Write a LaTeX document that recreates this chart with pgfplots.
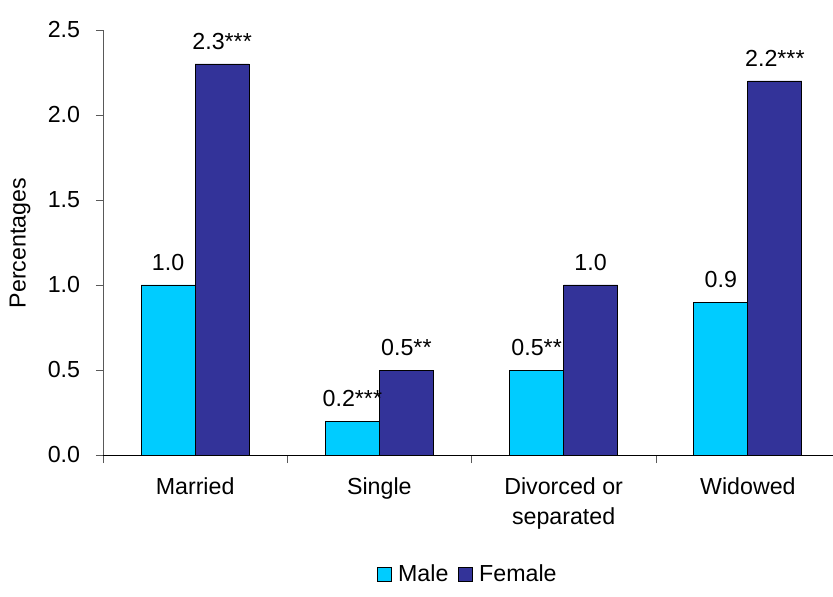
\documentclass[border=0pt]{standalone}
\usepackage{fontspec}
\setmainfont{Liberation Sans}
\usepackage{pgfplots}
\pgfplotsset{compat=1.18}
\definecolor{malec}{HTML}{00CCFF}
\definecolor{femalec}{HTML}{333399}
\begin{document}
\fontsize{23.3}{30}\selectfont
\begin{tikzpicture}
\useasboundingbox (-103bp,-142bp) rectangle (730bp,455bp);
\begin{axis}[
  scale only axis,
  width=730bp, height=425bp,
  ybar=0pt, bar width=54bp,
  xmin=-0.5, xmax=3.462,
  ymin=0, ymax=2.5,
  axis x line*=bottom, axis y line*=left,
  y axis line style={draw=gray!70!black},
  x axis line style={draw=black, thick},
  tick label style={font=\fontsize{23.3}{30}\selectfont},
  label style={font=\fontsize{23.3}{30}\selectfont},
  xtick={0,1,2,3},
  xticklabels={Married,Single,{Divorced or\\separated},Widowed},
  xticklabel style={align=center, yshift=-8bp},
  major x tick style={draw=none},
  minor xtick={-0.5,0.5,1.5,2.5},
  minor x tick style={draw=gray!70!black},
  minor tick length=8bp,
  ytick={0,0.5,...,2.5},
  major tick length=7bp,
  y tick style={draw=gray!70!black},
  tick align=outside,
  yticklabel style={/pgf/number format/fixed,/pgf/number format/fixed zerofill,/pgf/number format/precision=1, xshift=-8bp},
  /pgf/number format/assume math mode=true,
  ylabel={Percentages},
  ylabel style={at={(-83bp,212bp)}, anchor=center, rotate=0},
  enlarge x limits=false,
  nodes near coords,
  point meta=explicit symbolic,
  every node near coord/.append style={anchor=south, yshift=6bp, font=\fontsize{23.3}{30}\selectfont},
  legend style={at={(0.5,-0.282)}, anchor=center, draw=none, legend columns=2,
    /tikz/every odd column/.append style={column sep=4bp},
    /tikz/every even column/.append style={column sep=8bp}, font=\fontsize{23.3}{30}\selectfont},
  legend image code/.code={\draw[#1, draw=black, thick] (0bp,-7bp) rectangle (14bp,7bp);},
  clip=false,
]
\addplot[fill=malec, draw=black, thick] coordinates {(0,1.0)[1.0] (1,0.2)[0.2***] (2,0.5)[0.5**] (3,0.9)[0.9]};
\addplot[fill=femalec, draw=black, thick] coordinates {(0,2.3)[2.3***] (1,0.5)[0.5**] (2,1.0)[1.0] (3,2.2)[2.2***]};
\legend{Male,Female}
\end{axis}
\end{tikzpicture}
\end{document}
